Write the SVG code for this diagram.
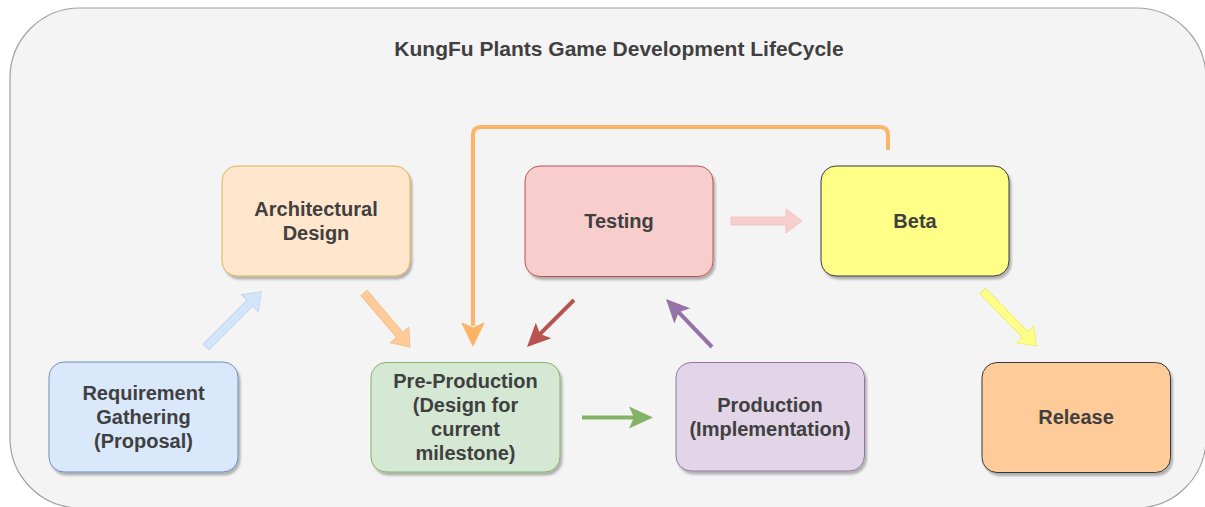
<svg xmlns="http://www.w3.org/2000/svg" width="1205" height="507" viewBox="0 0 1205 507">
<defs>
<filter id="sh" x="-10%" y="-10%" width="130%" height="130%">
<feDropShadow dx="2" dy="3" stdDeviation="1.2" flood-color="#000" flood-opacity="0.28"/>
</filter>
<style>
.lbl{font-family:"Liberation Sans",Arial,sans-serif;font-weight:bold;font-size:20px;fill:#404040;text-anchor:middle}
.title{font-family:"Liberation Sans",Arial,sans-serif;font-weight:bold;font-size:21px;fill:#404040;text-anchor:middle}
.box{stroke-width:1;filter:url(#sh)}
.ln{fill:none;stroke-width:4}
</style>
</defs>
<rect x="10" y="8" width="1196" height="500" rx="70" ry="70" fill="#f4f4f4" stroke="#a0a0a0" stroke-width="1.2"/>
<text class="title" x="619" y="55.5">KungFu Plants Game Development LifeCycle</text>

<g id="connectors">
<polygon transform="translate(206,347) rotate(-45)" points="0,-4 62,-4 62,-12 78,0 62,12 62,4 0,4" fill="#d2e5fa" stroke="#c3d7ee"/>
<polygon transform="translate(364,293) rotate(49.6)" points="0,-4 55,-4 55,-12 71,0 55,12 55,4 0,4" fill="#ffcc99" stroke="#f3c08f"/>
<polygon transform="translate(731,221)" points="0,-4 55,-4 55,-12 71,0 55,12 55,4 0,4" fill="#f8cecc" stroke="#f0c4c2"/>
<polygon transform="translate(982.5,291) rotate(45.5)" points="0,-4 61,-4 61,-12 77,0 61,12 61,4 0,4" fill="#ffff88" stroke="#ecec80"/>

<path class="ln" d="M888,150 V135 Q888,127 880,127 H481 Q473,127 473,135 V326" stroke="#ffb366"/>
<polygon points="473,346 462,323 473,328 484,323" fill="#ffb366" stroke="#ffb366" stroke-width="1"/>

<g transform="translate(574,300) rotate(135)">
<line class="ln" x1="0" y1="0" x2="49" y2="0" stroke="#b85450"/>
<polygon points="66.5,0 43,-11 48,0 43,11" fill="#b85450"/>
</g>
<g transform="translate(712,347) rotate(226.2)">
<line class="ln" x1="0" y1="0" x2="49" y2="0" stroke="#9673a6"/>
<polygon points="66.5,0 43,-11 48,0 43,11" fill="#9673a6"/>
</g>
<g transform="translate(582,417.5)">
<line class="ln" x1="0" y1="0" x2="52" y2="0" stroke="#82b366"/>
<polygon points="71,0 47,-11 52,0 47,11" fill="#82b366"/>
</g>
</g>

<g id="requirement">
<rect class="box" x="49" y="362" width="189" height="110" rx="15" fill="#dae8fc" stroke="#6c8ebf"/>
<text class="lbl" x="143.5" y="400">Requirement</text>
<text class="lbl" x="143.5" y="424">Gathering</text>
<text class="lbl" x="143.5" y="448">(Proposal)</text>
</g>
<g id="architectural">
<rect class="box" x="222" y="166" width="188" height="110" rx="15" fill="#ffe6cc" stroke="#d6b656"/>
<text class="lbl" x="316" y="216">Architectural</text>
<text class="lbl" x="316" y="240">Design</text>
</g>
<g id="preproduction">
<rect class="box" x="371" y="362.5" width="189" height="109.5" rx="15" fill="#d5e8d4" stroke="#82b366"/>
<text class="lbl" x="465.5" y="388">Pre-Production</text>
<text class="lbl" x="465.5" y="412">(Design for</text>
<text class="lbl" x="465.5" y="436">current</text>
<text class="lbl" x="465.5" y="460">milestone)</text>
</g>
<g id="testing">
<rect class="box" x="525" y="166" width="188" height="110.5" rx="15" fill="#f8cecc" stroke="#b85450"/>
<text class="lbl" x="619" y="228">Testing</text>
</g>
<g id="production">
<rect class="box" x="676" y="362.5" width="188.5" height="108.5" rx="15" fill="#e1d5e7" stroke="#9673a6"/>
<text class="lbl" x="770" y="412">Production</text>
<text class="lbl" x="770" y="436">(Implementation)</text>
</g>
<g id="beta">
<rect class="box" x="821" y="166" width="188" height="110" rx="15" fill="#ffff88" stroke="#36393d"/>
<text class="lbl" x="915" y="228">Beta</text>
</g>
<g id="release">
<rect class="box" x="982" y="362.5" width="188.5" height="110" rx="15" fill="#ffcc99" stroke="#36393d"/>
<text class="lbl" x="1076" y="424">Release</text>
</g>
</svg>
